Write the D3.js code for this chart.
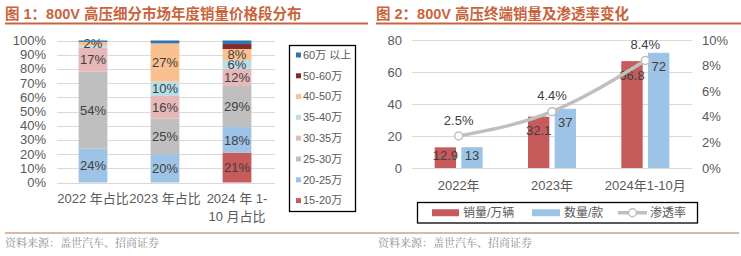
<!DOCTYPE html>
<html><head><meta charset="utf-8">
<script src="https://cdn.jsdelivr.net/npm/d3@7/dist/d3.min.js"></script>
<style>
html,body{margin:0;padding:0;background:#fff;}
svg{display:block;font-family:"Liberation Sans","Noto Sans CJK SC",Arial,sans-serif;}
</style></head><body>
<svg id="c" width="741" height="256"></svg>
<script>
// ---------- Data: figure 1 ----------
const years1 = ["2022 年占比", "2023 年占比", "2024 年 1-\n10 月占比"];
const segments = ["15-20万", "20-25万", "25-30万", "30-35万", "35-40万", "40-50万", "50-60万", "60万 以上"];
const seg1520 = [0, 0, 21];
const seg2025 = [24, 20, 18];
const seg2530 = [54, 25, 29];
const seg3035 = [17, 16, 12];
const seg3540 = [1.5, 10, 6];
const seg4050 = [2.5, 27, 8];
const seg5060 = [0, 0, 3.5];
const seg60up = [1, 2, 2.5];
const segLabels = [
  ["", "", "21%"],
  ["24%", "20%", "18%"],
  ["54%", "25%", "29%"],
  ["17%", "16%", "12%"],
  ["", "10%", "6%"],
  ["2%", "27%", "8%"],
  ["", "", ""],
  ["", "", ""]
];
const yTicks1 = [0, 10, 20, 30, 40, 50, 60, 70, 80, 90, 100];
const segColors = ["#c55b5b", "#9dc3e6", "#bfbfbf", "#e6b9b8", "#b7dee8", "#fac090", "#842c2c", "#2e75b6"];

// ---------- Data: figure 2 ----------
const years2 = ["2022年", "2023年", "2024年1-10月"];
const salesWan = [12.9, 32.1, 66.8];     // 销量/万辆
const modelCount = [13, 37, 72];         // 数量/款
const penetration = [2.5, 4.4, 8.4];     // 渗透率 %
const yTicks2L = [0, 20, 40, 60, 80];
const yTicks2R = [0, 2, 4, 6, 8, 10];

const svg = d3.select("#c");
const TITLE = "#c8643c";
const TXT = "#595959";
const LBL = "#404040";
const GRID = "#d9d9d9";

// ---------- Titles ----------
function title(x, x2, text) {
  svg.append("text").attr("x", x).attr("y", 19).attr("font-size", 14.5).attr("font-weight", "bold")
    .attr("fill", TITLE).text(text);
  svg.append("line").attr("x1", x).attr("x2", x2).attr("y1", 23.5).attr("y2", 23.5)
    .attr("stroke", TITLE).attr("stroke-width", 2);
}
title(5, 368, "图 1：800V 高压细分市场年度销量价格段分布");
title(376, 741, "图 2：800V 高压终端销量及渗透率变化");

// footer
svg.append("line").attr("x1", 5).attr("x2", 739).attr("y1", 233).attr("y2", 233)
  .attr("stroke", "#c0704f").attr("stroke-width", 1.2);
[5, 378].forEach(x => svg.append("text").attr("x", x).attr("y", 247).attr("font-size", 11)
  .attr("fill", "#8c8c8c").attr("font-family", "'Noto Serif CJK SC','Noto Sans CJK SC',serif")
  .text("资料来源：盖世汽车、招商证券"));

// ---------- Figure 1 ----------
const g1 = svg.append("g");
const y1 = d3.scaleLinear().domain([0, 100]).range([182.5, 40.5]);
const x1 = d3.scaleBand().domain(years1).range([57, 273]).paddingInner(0.6).paddingOuter(0.3);

g1.selectAll("line.grid").data(yTicks1).join("line")
  .attr("x1", 57).attr("x2", 275).attr("y1", d => Math.round(y1(d)) + 0.5).attr("y2", d => Math.round(y1(d)) + 0.5)
  .attr("stroke", GRID).attr("stroke-width", 1);
g1.selectAll("text.yt").data(yTicks1).join("text")
  .attr("x", 46).attr("y", d => y1(d)).attr("dy", "0.35em").attr("text-anchor", "end")
  .attr("font-size", 13).attr("fill", TXT).text(d => d + "%");

const segSeries = [seg1520, seg2025, seg2530, seg3035, seg3540, seg4050, seg5060, seg60up];
const stackRows = years1.map((yr, i) => {
  const row = { yr };
  segments.forEach((s, k) => row[s] = segSeries[k][i]);
  return row;
});
const stacked = d3.stack().keys(segments)(stackRows);
stacked.forEach((layer, k) => {
  g1.append("g").selectAll("rect").data(layer).join("rect")
    .attr("x", d => x1(d.data.yr)).attr("width", x1.bandwidth())
    .attr("y", d => y1(d[1])).attr("height", d => Math.max(0, y1(d[0]) - y1(d[1])))
    .attr("fill", segColors[k]);
  g1.append("g").selectAll("text").data(layer).join("text")
    .attr("x", d => x1(d.data.yr) + x1.bandwidth() / 2)
    .attr("y", d => (y1(d[0]) + y1(d[1])) / 2).attr("dy", "0.36em")
    .attr("text-anchor", "middle").attr("font-size", 13).attr("fill", LBL)
    .text((d, i) => segLabels[k][i]);
});
years1.forEach(yr => {
  const lines = yr.split("\n");
  lines.forEach((ln, j) => g1.append("text").attr("x", x1(yr) + x1.bandwidth() / 2)
    .attr("y", 198 + j * 18).attr("dy", "0.35em").attr("text-anchor", "middle")
    .attr("font-size", 13).attr("fill", TXT).text(ln));
});
// legend 1
const lg1 = g1.append("g");
lg1.append("rect").attr("x", 289.5).attr("y", 45.5).attr("width", 66).attr("height", 166)
  .attr("fill", "#fff").attr("stroke", "#000").attr("stroke-width", 1.3);
const legOrder = segments.slice().reverse();
legOrder.forEach((s, i) => {
  const k = segments.indexOf(s);
  const cy = 55 + i * 20.8;
  lg1.append("rect").attr("x", 296).attr("y", cy - 2.5).attr("width", 5).attr("height", 5).attr("fill", segColors[k]);
  lg1.append("text").attr("x", 303).attr("y", cy).attr("dy", "0.35em").attr("font-size", 11)
    .attr("fill", TXT).text(s);
});

// ---------- Figure 2 ----------
const g2 = svg.append("g");
const y2 = d3.scaleLinear().domain([0, 80]).range([168, 40]);
const y2r = d3.scaleLinear().domain([0, 10]).range([168, 40]);
const x2 = d3.scaleBand().domain(years2).range([412, 692]);
const xi = d3.scaleBand().domain(["s", "m"]).range([-24, 24]).paddingInner(0.2);

g2.selectAll("line.grid").data(yTicks2L).join("line")
  .attr("x1", 412).attr("x2", 692).attr("y1", d => Math.round(y2(d)) + 0.5).attr("y2", d => Math.round(y2(d)) + 0.5)
  .attr("stroke", GRID).attr("stroke-width", 1);
g2.selectAll("text.yl").data(yTicks2L).join("text")
  .attr("x", 402).attr("y", d => y2(d)).attr("dy", "0.35em").attr("text-anchor", "end")
  .attr("font-size", 13).attr("fill", TXT).text(d => d);
g2.selectAll("text.yr").data(yTicks2R).join("text")
  .attr("x", 702).attr("y", d => y2r(d)).attr("dy", "0.35em").attr("text-anchor", "start")
  .attr("font-size", 13).attr("fill", TXT).text(d => d + "%");

const cx = d => x2(d) + x2.bandwidth() / 2;
const barSets = [
  { key: "s", vals: salesWan, color: "#c55b5b" },
  { key: "m", vals: modelCount, color: "#9dc3e6" }
];
barSets.forEach(bs => {
  const data = years2.map((yr, i) => ({ yr, v: bs.vals[i] }));
  g2.append("g").selectAll("rect").data(data).join("rect")
    .attr("x", d => cx(d.yr) + xi(bs.key)).attr("width", xi.bandwidth())
    .attr("y", d => y2(d.v)).attr("height", d => y2(0) - y2(d.v)).attr("fill", bs.color);
  g2.append("g").selectAll("text").data(data).join("text")
    .attr("x", d => cx(d.yr) + xi(bs.key) + xi.bandwidth() / 2)
    .attr("y", d => Math.min(y2(d.v) + 14, y2(0) - 13)).attr("dy", "0.35em")
    .attr("text-anchor", "middle").attr("font-size", 13).attr("fill", LBL).text(d => d.v);
});
const pts = years2.map((yr, i) => ({ yr, v: penetration[i] }));
g2.append("path").datum(pts)
  .attr("d", d3.line().x(d => cx(d.yr)).y(d => y2r(d.v)).curve(d3.curveMonotoneX))
  .attr("fill", "none").attr("stroke", "#bfbfbf").attr("stroke-width", 3.5);
g2.append("g").selectAll("circle").data(pts).join("circle")
  .attr("cx", d => cx(d.yr)).attr("cy", d => y2r(d.v)).attr("r", 4)
  .attr("fill", "#fff").attr("stroke", "#bfbfbf").attr("stroke-width", 1.5);
g2.append("g").selectAll("text").data(pts).join("text")
  .attr("x", d => cx(d.yr)).attr("y", d => y2r(d.v) - 16).attr("dy", "0.35em")
  .attr("text-anchor", "middle").attr("font-size", 13).attr("fill", LBL).text(d => d.v + "%");
years2.forEach(yr => g2.append("text").attr("x", cx(yr)).attr("y", 185).attr("dy", "0.35em")
  .attr("text-anchor", "middle").attr("font-size", 13).attr("fill", TXT).text(yr));

// legend 2
const lg2 = g2.append("g");
lg2.append("rect").attr("x", 417.5).attr("y", 202.5).attr("width", 280).attr("height", 20.5)
  .attr("fill", "#fff").attr("stroke", "#000").attr("stroke-width", 1.3);
const ly = 212.75;
lg2.append("rect").attr("x", 432).attr("y", ly - 3.5).attr("width", 27).attr("height", 7).attr("fill", "#c55b5b");
lg2.append("text").attr("x", 463).attr("y", ly).attr("dy", "0.35em").attr("font-size", 12).attr("fill", TXT).text("销量/万辆");
lg2.append("rect").attr("x", 532).attr("y", ly - 3.5).attr("width", 28).attr("height", 7).attr("fill", "#9dc3e6");
lg2.append("text").attr("x", 564).attr("y", ly).attr("dy", "0.35em").attr("font-size", 12).attr("fill", TXT).text("数量/款");
lg2.append("line").attr("x1", 618).attr("x2", 647).attr("y1", ly).attr("y2", ly).attr("stroke", "#bfbfbf").attr("stroke-width", 3.5);
lg2.append("circle").attr("cx", 632.5).attr("cy", ly).attr("r", 4).attr("fill", "#fff").attr("stroke", "#bfbfbf").attr("stroke-width", 1.5);
lg2.append("text").attr("x", 650).attr("y", ly).attr("dy", "0.35em").attr("font-size", 12).attr("fill", TXT).text("渗透率");
</script>
</body></html>
